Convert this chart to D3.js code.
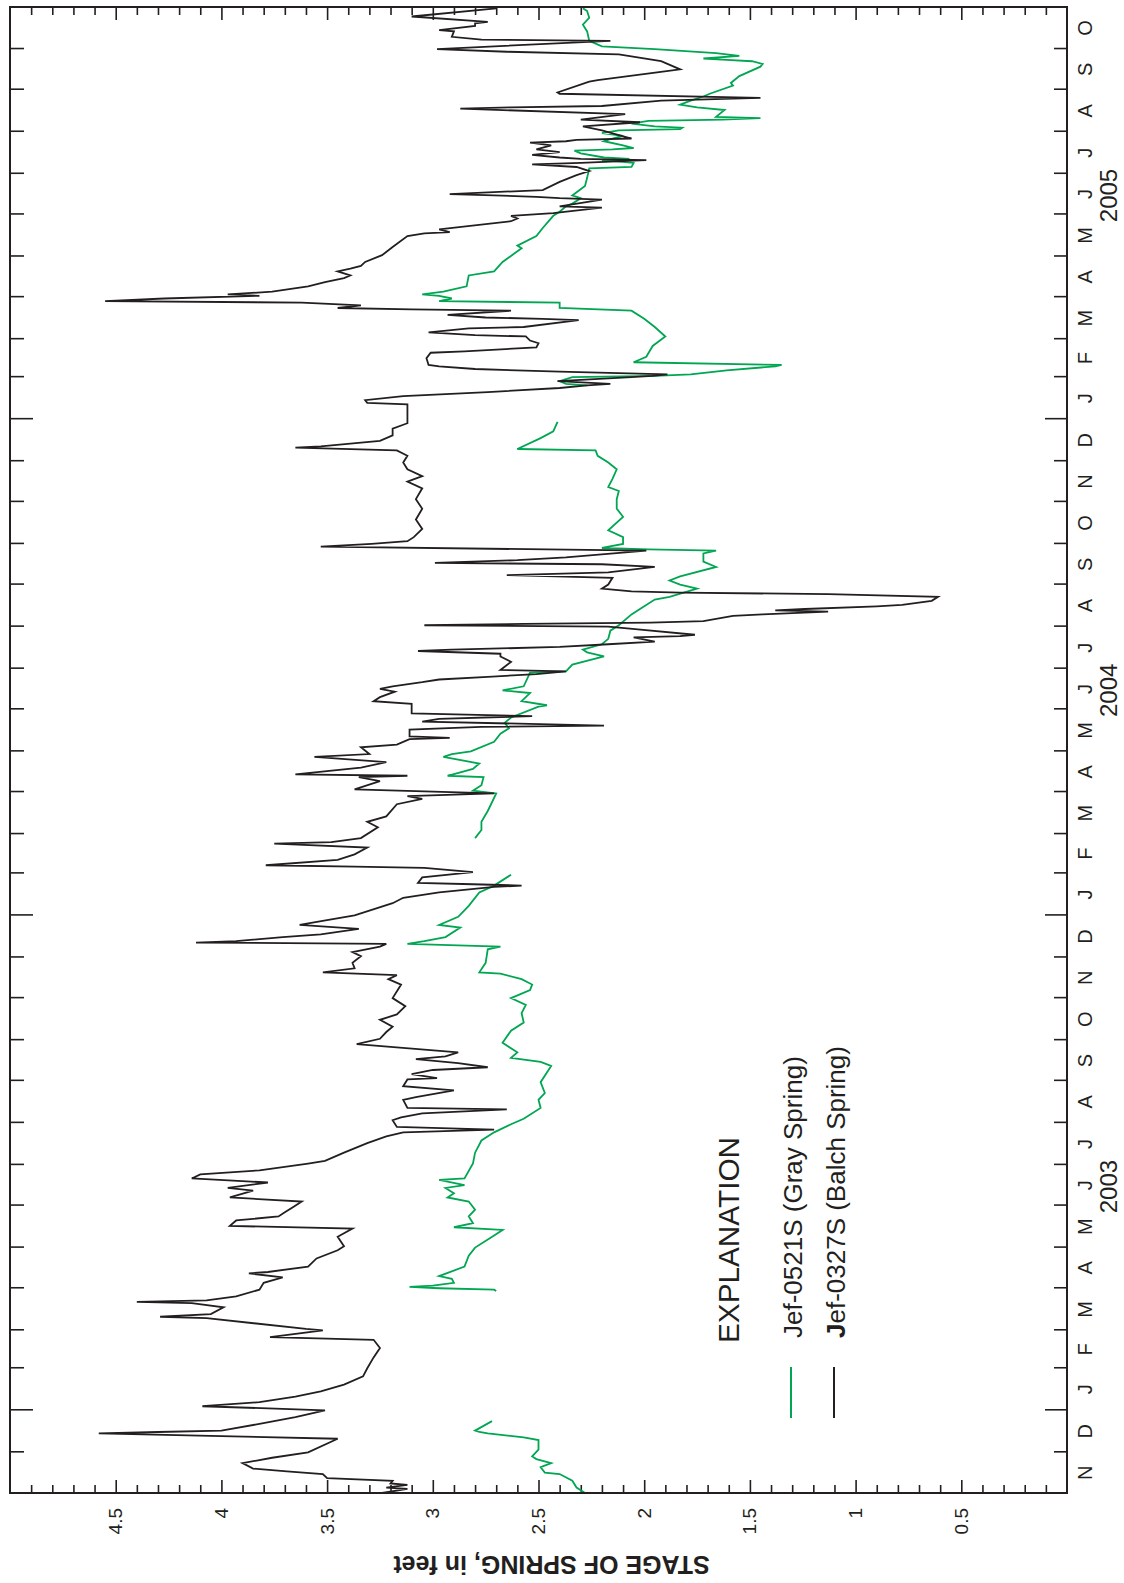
<!DOCTYPE html>
<html>
<head>
<meta charset="utf-8">
<script src="https://cdn.jsdelivr.net/npm/d3@7"></script>
<style>
  html, body { margin: 0; padding: 0; background: #fff; }
  svg { display: block; }
</style>
</head>
<body>
<svg id="chart" width="1124" height="1583"></svg>
<script>
// ---- Axis labels -------------------------------------------------------
const monthLetters = ["N","D","J","F","M","A","M","J","J","A","S","O",
                      "N","D","J","F","M","A","M","J","J","A","S","O",
                      "N","D","J","F","M","A","M","J","J","A","S","O"];
const yearLabels = ["2003", "2004", "2005"];
const yearLabelDates = ["2003-06-15", "2004-06-15", "2005-06-15"];
const stageTickValues = [0.5, 1, 1.5, 2, 2.5, 3, 3.5, 4, 4.5];
const stageTickLabels = ["0.5", "1", "1.5", "2", "2.5", "3", "3.5", "4", "4.5"];

// ---- Series: stage of spring, feet (null marks a gap in record) --------
const graySpring = [
  ["2002-11-01",2.28],["2002-11-05",2.32],["2002-11-10",2.34],["2002-11-15",2.40],["2002-11-16",2.47],
  ["2002-11-20",2.49],["2002-11-23",2.44],["2002-11-26",2.51],["2002-11-28",2.53],["2002-12-03",2.50],
  ["2002-12-10",2.50],["2002-12-12",2.57],["2002-12-15",2.74],["2002-12-16",2.78],["2002-12-17",2.80],
  ["2002-12-24",2.72],["2003-02-01",null],
  ["2003-03-30",2.70],["2003-03-31",2.71],["2003-04-01",2.97],["2003-04-02",3.11],["2003-04-03",3.00],
  ["2003-04-05",2.90],["2003-04-08",2.91],["2003-04-10",2.97],["2003-04-17",2.85],["2003-04-25",2.83],
  ["2003-05-01",2.80],["2003-05-10",2.71],["2003-05-14",2.67],["2003-05-16",2.90],["2003-05-19",2.81],
  ["2003-05-24",2.83],["2003-05-29",2.80],["2003-06-04",2.83],["2003-06-07",2.93],["2003-06-10",2.90],
  ["2003-06-14",2.94],["2003-06-16",2.85],["2003-06-20",2.97],["2003-06-21",2.85],["2003-07-02",2.81],
  ["2003-07-10",2.80],["2003-07-19",2.77],["2003-07-25",2.71],["2003-07-31",2.63],["2003-08-04",2.57],
  ["2003-08-12",2.49],["2003-08-18",2.50],["2003-08-23",2.47],["2003-08-31",2.49],["2003-09-12",2.44],
  ["2003-09-15",2.49],["2003-09-18",2.63],["2003-09-22",2.60],["2003-09-29",2.67],["2003-10-08",2.63],
  ["2003-10-14",2.57],["2003-10-21",2.58],["2003-10-27",2.56],["2003-11-01",2.63],["2003-11-07",2.54],
  ["2003-11-11",2.53],["2003-11-15",2.58],["2003-11-19",2.68],["2003-11-20",2.78],["2003-11-27",2.75],
  ["2003-12-07",2.74],["2003-12-09",2.68],["2003-12-11",3.12],["2003-12-13",3.04],["2003-12-16",2.94],
  ["2003-12-23",2.87],["2003-12-25",2.97],["2003-12-31",2.88],["2004-01-08",2.83],["2004-01-18",2.78],
  ["2004-01-23",2.71],["2004-01-31",2.63],["2004-02-14",null],
  ["2004-02-27",2.80],["2004-03-04",2.77],["2004-03-10",2.77],["2004-03-18",2.74],["2004-03-31",2.70],
  ["2004-04-02",2.81],["2004-04-06",2.77],["2004-04-12",2.76],["2004-04-13",2.93],["2004-04-18",2.81],
  ["2004-04-22",2.78],["2004-04-27",2.95],["2004-04-29",2.91],["2004-05-01",2.82],["2004-05-08",2.71],
  ["2004-05-14",2.68],["2004-05-18",2.64],["2004-05-22",2.66],["2004-05-26",2.63],["2004-06-03",2.50],
  ["2004-06-04",2.46],["2004-06-07",2.58],["2004-06-13",2.54],["2004-06-15",2.67],["2004-06-18",2.57],
  ["2004-06-28",2.54],["2004-06-29",2.37],["2004-07-04",2.34],["2004-07-10",2.19],["2004-07-13",2.27],
  ["2004-07-15",2.29],["2004-07-19",2.20],["2004-07-23",2.17],["2004-07-29",2.16],["2004-08-02",2.12],
  ["2004-08-10",2.06],["2004-08-14",2.02],["2004-08-21",1.95],["2004-08-23",1.88],["2004-08-29",1.75],
  ["2004-09-01",1.83],["2004-09-04",1.88],["2004-09-07",1.83],["2004-09-14",1.66],["2004-09-18",1.72],
  ["2004-09-24",1.72],["2004-09-26",1.66],["2004-09-27",1.98],["2004-09-28",2.20],["2004-10-01",2.10],
  ["2004-10-06",2.10],["2004-10-11",2.17],["2004-10-21",2.10],["2004-10-27",2.13],["2004-11-03",2.13],
  ["2004-11-09",2.12],["2004-11-12",2.17],["2004-11-18",2.15],["2004-11-25",2.13],["2004-11-30",2.17],
  ["2004-12-05",2.22],["2004-12-09",2.23],["2004-12-10",2.60],["2004-12-18",2.49],["2004-12-23",2.43],
  ["2004-12-30",2.41],["2005-01-12",null],
  ["2005-01-26",2.27],["2005-01-27",2.37],["2005-01-29",2.40],["2005-02-01",2.34],["2005-02-02",1.95],
  ["2005-02-03",1.78],["2005-02-06",1.61],["2005-02-09",1.38],["2005-02-10",1.35],["2005-02-12",2.05],
  ["2005-02-16",1.99],["2005-02-24",1.96],["2005-03-03",1.90],["2005-03-10",1.95],["2005-03-16",2.00],
  ["2005-03-22",2.06],["2005-03-24",2.40],["2005-03-28",2.40],["2005-03-29",2.97],["2005-03-31",2.91],
  ["2005-04-02",2.97],["2005-04-03",3.05],["2005-04-05",2.95],["2005-04-09",2.84],["2005-04-17",2.83],
  ["2005-04-20",2.71],["2005-04-27",2.67],["2005-05-07",2.58],["2005-05-09",2.60],["2005-05-16",2.51],
  ["2005-05-22",2.48],["2005-05-31",2.43],["2005-06-03",2.40],["2005-06-07",2.37],["2005-06-09",2.34],
  ["2005-06-13",2.30],["2005-06-15",2.34],["2005-06-22",2.28],["2005-06-28",2.27],["2005-07-05",2.26],
  ["2005-07-06",2.06],["2005-07-09",2.05],["2005-07-11",2.20],["2005-07-12",2.07],["2005-07-13",2.19],
  ["2005-07-16",2.30],["2005-07-18",2.33],["2005-07-19",2.15],["2005-07-20",2.05],["2005-07-22",2.10],
  ["2005-07-25",2.19],["2005-07-27",2.15],["2005-07-29",2.10],["2005-07-31",2.20],["2005-08-02",2.12],
  ["2005-08-03",1.83],["2005-08-04",1.82],["2005-08-05",1.95],["2005-08-07",2.06],["2005-08-09",1.98],
  ["2005-08-10",1.63],["2005-08-11",1.45],["2005-08-12",1.66],["2005-08-17",1.62],["2005-08-19",1.75],
  ["2005-08-21",1.83],["2005-08-24",1.78],["2005-08-27",1.72],["2005-08-29",1.69],["2005-09-04",1.58],
  ["2005-09-06",1.59],["2005-09-11",1.55],["2005-09-18",1.45],["2005-09-20",1.44],["2005-09-22",1.49],
  ["2005-09-23",1.61],["2005-09-24",1.72],["2005-09-26",1.55],["2005-09-28",1.66],["2005-10-01",1.95],
  ["2005-10-03",2.20],["2005-10-07",2.26],["2005-10-14",2.27],["2005-10-19",2.29],["2005-10-24",2.26],
  ["2005-10-29",2.27],["2005-10-31",2.29]
];

const balchSpring = [
  ["2002-11-01",3.24],["2002-11-04",3.12],["2002-11-05",3.22],["2002-11-07",3.12],["2002-11-08",3.20],
  ["2002-11-10",3.19],["2002-11-12",3.50],["2002-11-15",3.52],["2002-11-17",3.69],["2002-11-19",3.85],
  ["2002-11-23",3.90],["2002-11-27",3.76],["2002-12-01",3.59],["2002-12-11",3.45],["2002-12-13",4.00],
  ["2002-12-15",4.58],["2002-12-16",4.30],["2002-12-17",4.00],["2002-12-22",3.82],["2002-12-27",3.65],
  ["2003-01-01",3.51],["2003-01-04",4.09],["2003-01-07",3.82],["2003-01-11",3.65],["2003-01-15",3.53],
  ["2003-01-20",3.42],["2003-01-26",3.33],["2003-02-01",3.31],["2003-02-09",3.28],["2003-02-16",3.25],
  ["2003-02-22",3.28],["2003-02-24",3.77],["2003-03-01",3.52],["2003-03-02",3.60],["2003-03-10",4.07],
  ["2003-03-11",4.29],["2003-03-13",4.05],["2003-03-18",3.99],["2003-03-21",4.14],["2003-03-22",4.40],
  ["2003-03-23",4.07],["2003-03-26",3.93],["2003-03-31",3.82],["2003-04-05",3.80],["2003-04-09",3.71],
  ["2003-04-12",3.87],["2003-04-13",3.78],["2003-04-17",3.59],["2003-04-23",3.55],["2003-04-29",3.45],
  ["2003-05-02",3.42],["2003-05-09",3.45],["2003-05-15",3.38],["2003-05-17",3.96],["2003-05-21",3.93],
  ["2003-05-24",3.73],["2003-05-27",3.70],["2003-05-31",3.66],["2003-06-04",3.62],["2003-06-07",3.96],
  ["2003-06-12",3.85],["2003-06-14",3.97],["2003-06-18",3.78],["2003-06-21",4.14],["2003-06-24",4.10],
  ["2003-06-27",3.82],["2003-07-02",3.59],["2003-07-04",3.51],["2003-07-10",3.42],["2003-07-17",3.31],
  ["2003-07-22",3.22],["2003-07-25",3.14],["2003-07-27",2.71],["2003-07-29",3.17],["2003-08-03",3.19],
  ["2003-08-05",3.15],["2003-08-08",3.05],["2003-08-11",2.65],["2003-08-12",3.12],["2003-08-18",3.14],
  ["2003-08-20",3.08],["2003-08-25",2.90],["2003-08-28",3.14],["2003-09-02",3.12],["2003-09-03",2.98],
  ["2003-09-06",3.10],["2003-09-09",3.00],["2003-09-11",2.74],["2003-09-14",2.88],["2003-09-17",3.08],
  ["2003-09-19",2.94],["2003-09-22",2.88],["2003-09-28",3.36],["2003-10-02",3.25],["2003-10-07",3.22],
  ["2003-10-11",3.19],["2003-10-16",3.25],["2003-10-20",3.17],["2003-10-26",3.13],["2003-11-01",3.19],
  ["2003-11-11",3.15],["2003-11-15",3.21],["2003-11-18",3.17],["2003-11-20",3.52],["2003-11-23",3.37],
  ["2003-11-27",3.38],["2003-12-02",3.34],["2003-12-05",3.38],["2003-12-09",3.25],["2003-12-11",3.22],
  ["2003-12-12",4.12],["2003-12-13",3.93],["2003-12-16",3.71],["2003-12-18",3.53],["2003-12-22",3.35],
  ["2003-12-25",3.63],["2003-12-29",3.48],["2004-01-01",3.37],["2004-01-10",3.19],["2004-01-14",3.14],
  ["2004-01-18",2.97],["2004-01-22",2.71],["2004-01-23",2.58],["2004-01-24",2.81],["2004-01-25",3.07],
  ["2004-01-29",3.05],["2004-02-02",2.81],["2004-02-05",3.04],["2004-02-06",3.37],["2004-02-07",3.79],
  ["2004-02-11",3.45],["2004-02-15",3.37],["2004-02-20",3.31],["2004-02-23",3.75],["2004-02-24",3.48],
  ["2004-02-27",3.34],["2004-03-06",3.26],["2004-03-10",3.31],["2004-03-14",3.22],["2004-03-23",3.17],
  ["2004-03-27",3.05],["2004-03-29",3.12],["2004-03-31",2.71],["2004-04-03",3.37],["2004-04-09",3.25],
  ["2004-04-12",3.35],["2004-04-13",3.12],["2004-04-14",3.65],["2004-04-19",3.34],["2004-04-23",3.22],
  ["2004-04-27",3.56],["2004-04-29",3.30],["2004-05-04",3.34],["2004-05-06",3.17],["2004-05-10",3.11],
  ["2004-05-11",2.92],["2004-05-12",3.11],["2004-05-17",3.11],["2004-05-19",2.77],["2004-05-20",2.19],
  ["2004-05-23",3.05],["2004-05-25",2.97],["2004-05-27",2.53],["2004-05-29",3.10],["2004-06-05",3.10],
  ["2004-06-07",3.28],["2004-06-10",3.25],["2004-06-14",3.18],["2004-06-16",3.25],["2004-06-18",3.19],
  ["2004-06-21",3.05],["2004-06-23",2.97],["2004-06-25",2.74],["2004-06-27",2.51],["2004-06-29",2.37],
  ["2004-06-30",2.68],["2004-07-06",2.63],["2004-07-10",2.68],["2004-07-12",2.68],["2004-07-14",3.07],
  ["2004-07-15",2.91],["2004-07-17",2.40],["2004-07-19",2.17],["2004-07-21",1.95],["2004-07-24",2.05],
  ["2004-07-25",1.83],["2004-07-26",1.76],["2004-07-30",2.03],["2004-08-01",2.17],["2004-08-02",3.04],
  ["2004-08-03",2.57],["2004-08-04",1.97],["2004-08-05",1.72],["2004-08-09",1.58],["2004-08-10",1.44],
  ["2004-08-12",1.13],["2004-08-13",1.38],["2004-08-14",1.24],["2004-08-16",0.90],["2004-08-17",0.78],
  ["2004-08-20",0.64],["2004-08-23",0.61],["2004-08-25",1.13],["2004-08-26",1.83],["2004-08-27",2.06],
  ["2004-08-29",2.20],["2004-09-01",2.17],["2004-09-06",2.15],["2004-09-08",2.65],["2004-09-10",2.17],
  ["2004-09-14",1.95],["2004-09-16",2.20],["2004-09-17",2.99],["2004-09-19",2.60],["2004-09-21",2.37],
  ["2004-09-26",1.99],["2004-09-29",3.53],["2004-10-01",3.29],["2004-10-03",3.12],["2004-10-06",3.09],
  ["2004-10-12",3.05],["2004-10-19",3.08],["2004-10-27",3.05],["2004-11-03",3.08],["2004-11-11",3.05],
  ["2004-11-16",3.12],["2004-11-20",3.05],["2004-11-25",3.12],["2004-11-30",3.14],["2004-12-05",3.12],
  ["2004-12-09",3.17],["2004-12-11",3.65],["2004-12-12",3.53],["2004-12-14",3.39],["2004-12-16",3.25],
  ["2004-12-20",3.19],["2004-12-25",3.19],["2004-12-29",3.12],["2005-01-06",3.12],["2005-01-12",3.12],
  ["2005-01-13",3.31],["2005-01-15",3.32],["2005-01-18",3.14],["2005-01-21",2.74],["2005-01-24",2.40],
  ["2005-01-26",2.27],["2005-01-27",2.16],["2005-01-29",2.41],["2005-02-01",2.06],["2005-02-02",1.96],
  ["2005-02-03",1.89],["2005-02-05",2.40],["2005-02-07",2.80],["2005-02-09",2.97],["2005-02-10",3.02],
  ["2005-02-15",3.03],["2005-02-19",3.01],["2005-02-20",2.85],["2005-02-23",2.51],["2005-02-26",2.50],
  ["2005-02-28",2.54],["2005-03-03",2.56],["2005-03-04",2.80],["2005-03-06",3.02],["2005-03-09",2.83],
  ["2005-03-10",2.57],["2005-03-15",2.31],["2005-03-16",2.48],["2005-03-17",2.75],["2005-03-19",2.93],
  ["2005-03-22",2.63],["2005-03-23",3.10],["2005-03-24",3.45],["2005-03-26",3.34],["2005-03-28",3.62],
  ["2005-03-29",4.55],["2005-03-31",4.27],["2005-04-02",3.82],["2005-04-03",3.97],["2005-04-05",3.76],
  ["2005-04-09",3.59],["2005-04-12",3.51],["2005-04-15",3.42],["2005-04-17",3.39],["2005-04-20",3.45],
  ["2005-04-22",3.39],["2005-04-24",3.34],["2005-04-27",3.32],["2005-05-02",3.24],["2005-05-08",3.19],
  ["2005-05-16",3.12],["2005-05-18",3.04],["2005-05-19",2.92],["2005-05-21",2.97],["2005-05-27",2.63],
  ["2005-05-29",2.60],["2005-05-31",2.63],["2005-06-02",2.43],["2005-06-06",2.20],["2005-06-07",2.40],
  ["2005-06-12",2.20],["2005-06-13",2.40],["2005-06-14",2.51],["2005-06-15",2.71],["2005-06-16",2.92],
  ["2005-06-19",2.48],["2005-06-25",2.40],["2005-06-30",2.32],["2005-07-03",2.26],["2005-07-06",2.32],
  ["2005-07-08",2.53],["2005-07-09",2.30],["2005-07-11",1.99],["2005-07-12",2.30],["2005-07-13",2.40],
  ["2005-07-15",2.53],["2005-07-17",2.40],["2005-07-19",2.51],["2005-07-22",2.44],["2005-07-24",2.54],
  ["2005-07-25",2.37],["2005-07-26",2.32],["2005-07-27",2.06],["2005-08-02",2.20],["2005-08-05",2.29],
  ["2005-08-08",2.02],["2005-08-10",2.30],["2005-08-14",2.09],["2005-08-18",2.87],["2005-08-19",2.63],
  ["2005-08-20",2.20],["2005-08-24",1.92],["2005-08-26",1.45],["2005-08-29",2.40],["2005-08-30",2.41],
  ["2005-09-07",2.26],["2005-09-08",2.22],["2005-09-14",1.93],["2005-09-16",1.83],["2005-09-22",1.92],
  ["2005-09-27",2.12],["2005-09-29",2.65],["2005-10-01",2.98],["2005-10-07",2.16],["2005-10-08",2.77],
  ["2005-10-10",2.91],["2005-10-14",2.90],["2005-10-15",2.97],["2005-10-18",2.80],["2005-10-20",2.80],
  ["2005-10-21",2.74],["2005-10-25",3.10],["2005-10-31",2.70]
];

const seriesNames = ["Jef-0521S (Gray Spring)", "Jef-0327S (Balch Spring)"];
const seriesColors = ["#00a651", "#231f20"];

// ---- Layout -----------------------------------------------------------
const W = 1124, H = 1583;
const ink = "#231f20";
// The figure is composed in landscape (time across, stage up) and turned a
// quarter-turn counter-clockwise onto the portrait page.
const margin = { left: 90, right: 7, top: 10, bottom: 57 };
const innerW = H - margin.left - margin.right;   // along time
const innerH = W - margin.top - margin.bottom;   // along stage

const svg = d3.select("#chart");
const page = svg.append("g").attr("transform", `translate(0,${H}) rotate(-90)`);
const g = page.append("g").attr("transform", `translate(${margin.left},${margin.top})`);

const parse = d3.utcParse("%Y-%m-%d");
const x = d3.scaleUtc()
  .domain([parse("2002-11-01"), parse("2005-11-01")])
  .range([0, innerW]);
const y = d3.scaleLinear().domain([0, 5]).range([innerH, 0]);

// ---- Stage axes (left with labels, right mirrored) ---------------------
const minorStage = d3.range(1, 50).map(i => i / 10).filter(v => Math.round(v * 10) % 5 !== 0);
const labelOf = d3.scaleOrdinal().domain(stageTickValues).range(stageTickLabels);

function clean(sel) { sel.select(".domain").remove(); sel.selectAll("line").attr("stroke", ink).attr("stroke-width", 1.6); }

g.append("g").call(d3.axisLeft(y).tickValues(minorStage).tickSizeInner(-8).tickSizeOuter(0).tickFormat(""))
  .call(clean);
g.append("g").call(d3.axisLeft(y).tickValues(stageTickValues).tickSizeInner(-13).tickSizeOuter(0)
    .tickPadding(15).tickFormat(d => labelOf(d)))
  .call(clean)
  .call(s => s.selectAll("text").attr("font-family", "Liberation Sans, Arial, sans-serif")
    .attr("font-size", 19).attr("fill", ink));
g.append("g").attr("transform", `translate(${innerW},0)`)
  .call(d3.axisRight(y).tickValues(minorStage).tickSizeInner(-8).tickSizeOuter(0).tickFormat(""))
  .call(clean);
g.append("g").attr("transform", `translate(${innerW},0)`)
  .call(d3.axisRight(y).tickValues(stageTickValues).tickSizeInner(-13).tickSizeOuter(0).tickFormat(""))
  .call(clean);

// ---- Time axes (month ticks, longer at January) -------------------------
const monthStarts = d3.utcMonth.range(parse("2002-12-01"), parse("2005-11-01"));
const janStarts = monthStarts.filter(d => d.getUTCMonth() === 0);
const otherMonths = monthStarts.filter(d => d.getUTCMonth() !== 0);

g.append("g").attr("transform", `translate(0,${innerH})`)
  .call(d3.axisBottom(x).tickValues(otherMonths).tickSizeInner(-13).tickSizeOuter(0).tickFormat(""))
  .call(clean);
g.append("g").attr("transform", `translate(0,${innerH})`)
  .call(d3.axisBottom(x).tickValues(janStarts).tickSizeInner(-22).tickSizeOuter(0).tickFormat(""))
  .call(clean);
g.append("g")
  .call(d3.axisTop(x).tickValues(otherMonths).tickSizeInner(-14).tickSizeOuter(0).tickFormat(""))
  .call(clean);
g.append("g")
  .call(d3.axisTop(x).tickValues(janStarts).tickSizeInner(-23).tickSizeOuter(0).tickFormat(""))
  .call(clean);

// month initials centred in each month
const allMonths = d3.utcMonth.range(parse("2002-11-01"), parse("2005-11-01"));
g.append("g").selectAll("text")
  .data(allMonths)
  .join("text")
  .attr("x", (d, i) => (x(d) + x(d3.utcMonth.offset(d, 1))) / 2)
  .attr("y", innerH + 18)
  .attr("text-anchor", "middle")
  .attr("dominant-baseline", "central")
  .attr("font-family", "Liberation Sans Narrow, Arial Narrow, sans-serif")
  .attr("font-size", 20)
  .attr("fill", ink)
  .text((d, i) => monthLetters[i]);

g.append("g").selectAll("text")
  .data(yearLabels)
  .join("text")
  .attr("x", (d, i) => x(parse(yearLabelDates[i])))
  .attr("y", innerH + 41)
  .attr("text-anchor", "middle")
  .attr("dominant-baseline", "central")
  .attr("font-family", "Liberation Sans Narrow, Arial Narrow, sans-serif")
  .attr("font-size", 24)
  .attr("fill", ink)
  .text(d => d);

// ---- Stage axis title ---------------------------------------------------
g.append("text")
  .attr("transform", `translate(${-72},${innerH / 2 + 13}) rotate(-90)`)
  .attr("text-anchor", "middle")
  .attr("dominant-baseline", "central")
  .attr("font-family", "Liberation Sans, Arial, sans-serif")
  .attr("font-weight", "bold")
  .attr("font-size", 25)
  .attr("fill", ink)
  .text("STAGE OF SPRING, in feet");

// ---- Data lines -----------------------------------------------------------
g.append("clipPath").attr("id", "plot-clip")
  .append("rect").attr("width", innerW).attr("height", innerH);

const line = d3.line()
  .defined(d => d[1] !== null)
  .x(d => x(parse(d[0])))
  .y(d => y(d[1]));

const lines = g.append("g").attr("clip-path", "url(#plot-clip)");
[graySpring, balchSpring].forEach((series, i) => {
  lines.append("path")
    .datum(series)
    .attr("fill", "none")
    .attr("stroke", seriesColors[i])
    .attr("stroke-width", 1.8)
    .attr("stroke-linejoin", "miter")
    .attr("d", line);
});

// ---- Frame ---------------------------------------------------------------
g.append("rect")
  .attr("width", innerW).attr("height", innerH)
  .attr("fill", "none").attr("stroke", ink).attr("stroke-width", 2);

// ---- Explanation (legend) -------------------------------------------------
const legend = g.append("g").attr("transform", `translate(${150 - margin.left},0)`);
legend.append("text")
  .attr("x", 90).attr("y", 739 - margin.top)
  .attr("font-family", "Liberation Sans, Arial, sans-serif")
  .attr("font-size", 30)
  .attr("textLength", 206).attr("lengthAdjust", "spacingAndGlyphs")
  .attr("fill", ink)
  .text("EXPLANATION");

const legendRows = [791, 834];
seriesNames.forEach((name, i) => {
  const cy = legendRows[i] - margin.top;
  legend.append("line")
    .attr("x1", 15).attr("x2", 66).attr("y1", cy).attr("y2", cy)
    .attr("stroke", seriesColors[i]).attr("stroke-width", 2);
  const t = legend.append("text")
    .attr("x", 95).attr("y", cy + 11)
    .attr("font-family", "Liberation Sans, Arial, sans-serif")
    .attr("font-size", 26)
    .attr("fill", ink);
  if (i === 1) {
    t.append("tspan").attr("font-weight", "bold").text(name.slice(0, 1));
    t.append("tspan").text(name.slice(1));
  } else {
    t.text(name);
  }
});
</script>
</body>
</html>
